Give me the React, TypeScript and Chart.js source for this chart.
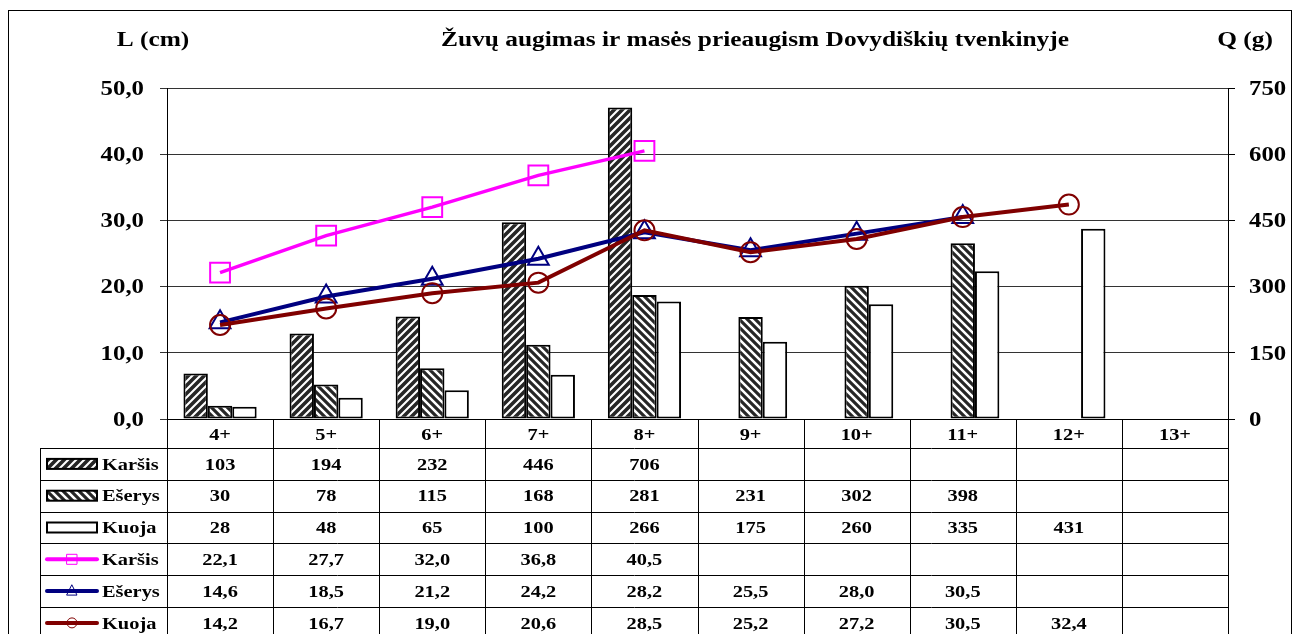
import React, { useEffect, useRef } from "react";
import { Chart, registerables } from "chart.js";

Chart.register(...registerables);

// ---------- data ----------
const ageClasses = ["4+", "5+", "6+", "7+", "8+", "9+", "10+", "11+", "12+", "13+"];
const seriesNames = ["Karšis", "Ešerys", "Kuoja"];
// mass Q (g) - bars, right axis
const massKarsis = [103, 194, 232, 446, 706, null, null, null, null, null];
const massEserys = [30, 78, 115, 168, 281, 231, 302, 398, null, null];
const massKuoja = [28, 48, 65, 100, 266, 175, 260, 335, 431, null];
// length L (cm) - lines, left axis
const lenKarsis = [22.1, 27.7, 32.0, 36.8, 40.5, null, null, null, null, null];
const lenEserys = [14.6, 18.5, 21.2, 24.2, 28.2, 25.5, 28.0, 30.5, null, null];
const lenKuoja = [14.2, 16.7, 19.0, 20.6, 28.5, 25.2, 27.2, 30.5, 32.4, null];
// axes
const leftMin = 0;
const leftMax = 50;
const leftStep = 10;
const rightMin = 0;
const rightMax = 750;
const rightStep = 150;
// texts
const titleText = "Žuvų augimas ir masės prieaugism Dovydiškių tvenkinyje";
const leftAxisTitle = "L (cm)";
const rightAxisTitle = "Q (g)";

const lineColors = ["#FF00FF", "#000080", "#800000"];
const SERIF = '"Liberation Serif", "Times New Roman", serif';

function txt(
  ctx: CanvasRenderingContext2D,
  s: string,
  x: number,
  yCenter: number,
  align: CanvasTextAlign,
  size: number,
  sx: number
) {
  ctx.save();
  ctx.font = `bold ${size}px ${SERIF}`;
  ctx.fillStyle = "#000";
  ctx.textBaseline = "alphabetic";
  ctx.textAlign = align;
  ctx.translate(x, yCenter + size * 0.34);
  ctx.scale(sx, 1);
  ctx.fillText(s, 0, 0);
  ctx.restore();
}

function makeHatch(dir: "fwd" | "back"): CanvasPattern | string {
  const s = 8;
  const c = document.createElement("canvas");
  c.width = s;
  c.height = s;
  const g = c.getContext("2d");
  if (!g) return "#333";
  g.fillStyle = "#262626";
  g.fillRect(0, 0, s, s);
  g.strokeStyle = "#ffffff";
  g.lineWidth = dir === "fwd" ? 2.1 : 2.5;
  g.beginPath();
  if (dir === "fwd") {
    g.moveTo(-2, s + 2); g.lineTo(s + 2, -2);
    g.moveTo(-2, 2); g.lineTo(2, -2);
    g.moveTo(s - 2, s + 2); g.lineTo(s + 2, s - 2);
  } else {
    g.moveTo(-2, -2); g.lineTo(s + 2, s + 2);
    g.moveTo(-2, s - 2); g.lineTo(2, s + 2);
    g.moveTo(s - 2, -2); g.lineTo(s + 2, 2);
  }
  g.stroke();
  const p = g.createPattern(c, "repeat");
  return p || "#333";
}

function fmtLen(v: number | null) {
  return v === null ? "" : v.toFixed(1).replace(".", ",");
}
function fmtMass(v: number | null) {
  return v === null ? "" : String(v);
}

export default function App() {
  const ref = useRef<HTMLCanvasElement | null>(null);

  useEffect(() => {
    let chart: Chart | null = null;
    let cancelled = false;

    const build = () => {
      if (cancelled || !ref.current) return;
      const patKarsis = makeHatch("fwd");
      const patEserys = makeHatch("back");
      const barFills: any[] = [patKarsis, patEserys, "#ffffff"];

      const tablePlugin = {
        id: "tablePlugin",
        afterDraw(c: any) {
          const ctx: CanvasRenderingContext2D = c.ctx;
          const area = c.chartArea;
          const xs = c.scales.x;
          const yl = c.scales.y;
          const yr = c.scales.y1;
          const n = ageClasses.length;
          const step = (area.right - area.left) / n;
          const headerBottom = 448;
          const rowH = 31.8;
          const tableLeft = 40;
          const bottomLimit = 700;

          ctx.save();
          // outer frame
          ctx.strokeStyle = "#000";
          ctx.lineWidth = 1;
          ctx.strokeRect(8.5, 10.5, 1283, 700);

          // titles
          txt(ctx, leftAxisTitle, 153, 39, "center", 20, 1.27);
          txt(ctx, titleText, 755, 39, "center", 20, 1.27);
          txt(ctx, rightAxisTitle, 1245, 39, "center", 20, 1.27);

          // y tick labels
          yl.ticks.forEach((t: any) => {
            const py = yl.getPixelForValue(t.value);
            txt(ctx, fmtLen(t.value), 144, py, "right", 20, 1.24);
          });
          yr.ticks.forEach((t: any) => {
            const py = yr.getPixelForValue(t.value);
            txt(ctx, String(t.value), 1249, py, "left", 20, 1.24);
          });

          // table grid
          ctx.strokeStyle = "#000";
          ctx.lineWidth = 1;
          ctx.beginPath();
          for (let i = 0; i <= n; i++) {
            const bx = Math.round(area.left + i * step) + 0.5;
            ctx.moveTo(bx, area.bottom);
            ctx.lineTo(bx, bottomLimit);
          }
          const tl = tableLeft + 0.5;
          ctx.moveTo(tl, headerBottom);
          ctx.lineTo(tl, bottomLimit);
          for (let r = 0; r <= 7; r++) {
            const ry = Math.round(headerBottom + r * rowH) + 0.5;
            ctx.moveTo(tl, ry);
            ctx.lineTo(area.right + 0.5, ry);
          }
          ctx.stroke();

          // category labels
          for (let i = 0; i < n; i++) {
            const cx = xs.getPixelForValue(i);
            txt(ctx, ageClasses[i], cx, (area.bottom + headerBottom) / 2 + 0.5, "center", 17, 1.2);
          }

          // rows
          const rows: { vals: (number | null)[]; fmt: (v: number | null) => string }[] = [
            { vals: massKarsis, fmt: fmtMass },
            { vals: massEserys, fmt: fmtMass },
            { vals: massKuoja, fmt: fmtMass },
            { vals: lenKarsis, fmt: fmtLen },
            { vals: lenEserys, fmt: fmtLen },
            { vals: lenKuoja, fmt: fmtLen },
          ];
          rows.forEach((row, r) => {
            const cy = headerBottom + r * rowH + rowH / 2;
            // legend key
            if (r < 3) {
              ctx.save();
              ctx.fillStyle = barFills[r];
              ctx.fillRect(47, cy - 5, 50, 10);
              ctx.strokeStyle = "#000";
              ctx.lineWidth = 2;
              ctx.strokeRect(47, cy - 5, 50, 10);
              ctx.restore();
            } else {
              const col = lineColors[r - 3];
              ctx.save();
              ctx.strokeStyle = col;
              ctx.lineWidth = 4;
              ctx.lineCap = "round";
              ctx.beginPath();
              ctx.moveTo(47, cy);
              ctx.lineTo(97, cy);
              ctx.stroke();
              ctx.lineWidth = 1;
              ctx.beginPath();
              if (r === 3) {
                ctx.rect(67, cy - 5, 10, 10);
              } else if (r === 4) {
                ctx.moveTo(72, cy - 6);
                ctx.lineTo(77, cy + 4);
                ctx.lineTo(67, cy + 4);
                ctx.closePath();
              } else {
                ctx.arc(72, cy, 5, 0, Math.PI * 2);
              }
              ctx.stroke();
              ctx.restore();
            }
            txt(ctx, seriesNames[r % 3], 102, cy, "left", 17, 1.2);
            for (let i = 0; i < n; i++) {
              const s = row.fmt(row.vals[i] as any);
              if (s) txt(ctx, s, xs.getPixelForValue(i), cy, "center", 17, 1.2);
            }
          });
          ctx.restore();
        },
      };

      const barCommon = {
        type: "bar" as const,
        yAxisID: "y1",
        borderColor: "#000",
        borderWidth: 2,
        borderSkipped: false,
        barPercentage: 1,
        categoryPercentage: 0.69,
        order: 3,
      };
      const lineCommon = {
        type: "line" as const,
        yAxisID: "y",
        borderWidth: 4,
        tension: 0,
        fill: false,
        pointBorderWidth: 2,
        pointBackgroundColor: "rgba(0,0,0,0)",
      };

      chart = new Chart(ref.current, {
        type: "bar",
        data: {
          labels: ageClasses,
          datasets: [
            { ...lineCommon, label: "Karšis L", data: lenKarsis, borderColor: lineColors[0], borderWidth: 3.5, pointBorderColor: lineColors[0], pointStyle: "rect", pointRadius: 14, order: 2 },
            { ...lineCommon, label: "Ešerys L", data: lenEserys, borderColor: lineColors[1], pointBorderColor: lineColors[1], pointStyle: "triangle", pointRadius: 12, order: 1 },
            { ...lineCommon, label: "Kuoja L", data: lenKuoja, borderColor: lineColors[2], pointBorderColor: lineColors[2], pointStyle: "circle", pointRadius: 10, order: 0 },
            { ...barCommon, label: "Karšis Q", data: massKarsis, backgroundColor: patKarsis },
            { ...barCommon, label: "Ešerys Q", data: massEserys, backgroundColor: patEserys },
            { ...barCommon, label: "Kuoja Q", data: massKuoja, backgroundColor: "#ffffff" },
          ] as any,
        },
        options: {
          responsive: false,
          animation: false,
          devicePixelRatio: 1,
          events: [],
          layout: { padding: { top: 88, left: 0, right: 0, bottom: 0 } },
          plugins: {
            legend: { display: false },
            title: { display: false },
            tooltip: { enabled: false },
          },
          scales: {
            x: {
              type: "category",
              offset: true,
              grid: { display: false },
              border: { display: true, color: "#000", width: 1 },
              ticks: { display: false },
              afterFit: (s: any) => {
                s.height = 215;
              },
            },
            y: {
              position: "left",
              min: leftMin,
              max: leftMax,
              ticks: { stepSize: leftStep, display: false },
              grid: { color: "#333", lineWidth: 1, drawTicks: true, tickLength: 7 },
              border: { display: true, color: "#000", width: 1 },
              afterFit: (s: any) => {
                s.width = 167;
              },
            },
            y1: {
              position: "right",
              min: rightMin,
              max: rightMax,
              ticks: { stepSize: rightStep, display: false },
              grid: { drawOnChartArea: false, color: "#000", drawTicks: true, tickLength: 7 },
              border: { display: true, color: "#000", width: 1 },
              afterFit: (s: any) => {
                s.width = 65;
              },
            },
          },
        } as any,
        plugins: [tablePlugin],
      });
    };

    const fontsApi: any = (document as any).fonts;
    if (fontsApi && fontsApi.load) {
      Promise.all([
        fontsApi.load(`bold 20px "Liberation Serif"`),
        fontsApi.load(`bold 17px "Liberation Serif"`),
      ])
        .catch(() => null)
        .then(build);
    } else {
      build();
    }

    return () => {
      cancelled = true;
      if (chart) chart.destroy();
      chart = null;
    };
  }, []);

  return (
    <div
      style={{
        position: "absolute",
        left: 0,
        top: 0,
        width: 1293,
        height: 634,
        background: "#fff",
        overflow: "hidden",
      }}
    >
      <canvas ref={ref} width={1293} height={634} style={{ display: "block", width: 1293, height: 634 }} />
    </div>
  );
}
